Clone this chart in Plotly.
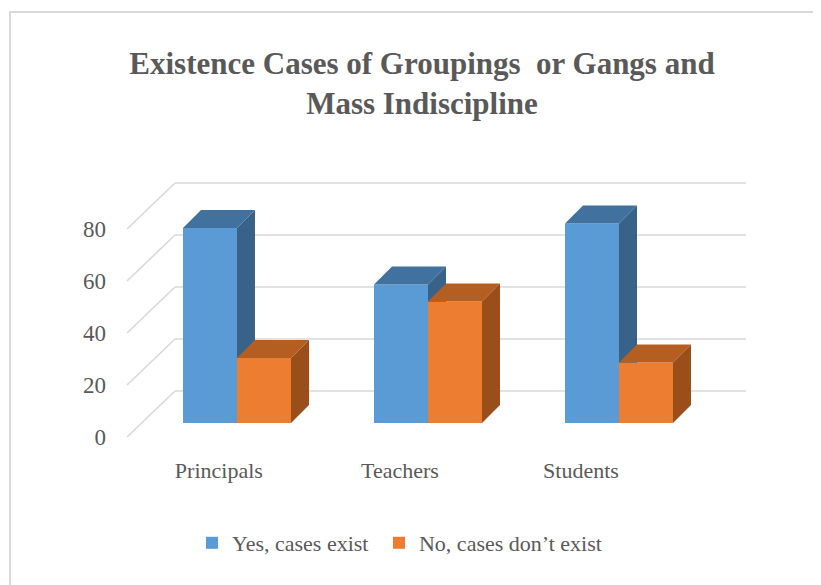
import plotly.graph_objects as go

# ---------------- data ----------------
categories = ["Principals", "Teachers", "Students"]
yes_values = [75, 53.3, 76.7]
no_values = [25, 46.7, 23.3]
series_names = ["Yes, cases exist", "No, cases don’t exist"]
y_ticks = [0, 20, 40, 60, 80]
title_text = "<b>Existence Cases of Groupings  or Gangs and<br>Mass Indiscipline</b>"

# ---------------- geometry (screen pixel layout helpers) ----------------
OFF = 8                      # page body margin
W, H = 821 - OFF, 585 - OFF  # figure size
# screen-pixel targets
PLOT_LEFT, PLOT_RIGHT, PLOT_TOP, PLOT_BOTTOM = 110, 761, 150, 455
L = PLOT_LEFT - OFF
T = PLOT_TOP - OFF
R = W - (PLOT_RIGHT - OFF)
B = H - (PLOT_BOTTOM - OFF)

PX_CAT = 191.0        # pixels per category unit
X0_PX = 237.0         # screen x of first group centre
PX_VAL = 2.6          # pixels per value unit
BASE_PX = 423.0       # screen y of bar baseline (front faces)

x_range = [(PLOT_LEFT - X0_PX) / PX_CAT, (PLOT_RIGHT - X0_PX) / PX_CAT]
y_range = [(BASE_PX - PLOT_BOTTOM) / PX_VAL, (BASE_PX - PLOT_TOP) / PX_VAL]

bar_w = 54 / PX_CAT
depth_dx = 18 / PX_CAT
depth_dy = 18 / PX_VAL
wall_dy = 32 / PX_VAL          # back wall offset (value units)
front_dy = -14 / PX_VAL        # front edge of side wall (value units)
wall_left = (175 - X0_PX) / PX_CAT
front_left = (127 - X0_PX) / PX_CAT
wall_right = (746 - X0_PX) / PX_CAT

FONT = "Liberation Serif"
TXT = "#595959"
GRID = "#D9D9D9"

colors = {
    "yes": ("#5B9BD5", "#41729F", "#386288"),
    "no": ("#ED7D31", "#B55E21", "#9A4F1B"),
}

fig = go.Figure()

def add_series(values, name, cols, xa, ya, offset_sign):
    front, top, side = cols
    xs = list(range(len(categories)))
    fig.add_trace(go.Bar(
        x=xs, y=values, name=name, width=bar_w,
        offset=-bar_w if offset_sign < 0 else 0,
        marker=dict(color=front, line=dict(width=0)),
        xaxis=xa, yaxis=ya, showlegend=True, hoverinfo="skip",
    ))
    for i, v in enumerate(values):
        x0 = i - bar_w if offset_sign < 0 else i
        x1 = x0 + bar_w
        # top face
        fig.add_trace(go.Scatter(
            x=[x0, x1, x1 + depth_dx, x0 + depth_dx, x0],
            y=[v, v, v + depth_dy, v + depth_dy, v],
            fill="toself", fillcolor=top, mode="lines",
            line=dict(width=0, color=top), showlegend=False,
            hoverinfo="skip", xaxis=xa, yaxis=ya,
        ))
        # side face
        fig.add_trace(go.Scatter(
            x=[x1, x1, x1 + depth_dx, x1 + depth_dx, x1],
            y=[0, v, v + depth_dy, depth_dy, 0],
            fill="toself", fillcolor=side, mode="lines",
            line=dict(width=0, color=side), showlegend=False,
            hoverinfo="skip", xaxis=xa, yaxis=ya,
        ))

# trailing no-break space widens the first legend entry slightly
add_series(yes_values, series_names[0] + "\u00a0", colors["yes"], "x", "y", -1)
add_series(no_values, series_names[1], colors["no"], "x2", "y2", 1)

# gridlines on back wall and side wall
shapes = []
for v in y_ticks:
    shapes.append(dict(type="line", xref="x", yref="y", layer="below",
                       x0=wall_left, x1=wall_right, y0=v + wall_dy, y1=v + wall_dy,
                       line=dict(color=GRID, width=1.6)))
    shapes.append(dict(type="line", xref="x", yref="y", layer="below",
                       x0=front_left, x1=wall_left, y0=v + front_dy, y1=v + wall_dy,
                       line=dict(color=GRID, width=1.6)))
# chart border (screen x=10, y=12, open to right/bottom)
plot_w = PLOT_RIGHT - PLOT_LEFT
plot_h = PLOT_BOTTOM - PLOT_TOP
shapes.append(dict(type="rect", xref="paper", yref="paper", layer="below",
                   x0=(10 - PLOT_LEFT) / plot_w, x1=(860 - PLOT_LEFT) / plot_w,
                   y0=(PLOT_BOTTOM - 620) / plot_h, y1=(PLOT_BOTTOM - 12) / plot_h,
                   line=dict(color=GRID, width=2), fillcolor="rgba(0,0,0,0)"))

# category label positions (perspective shift towards front)
cat_pos = [(i - 1) * 0.948 + 1 - 0.147 for i in range(len(categories))]

axis_common = dict(showgrid=False, zeroline=False, showline=False, ticks="")
fig.update_layout(
    width=W, height=H,
    margin=dict(l=L, r=R, t=T, b=B),
    paper_bgcolor="white", plot_bgcolor="white",
    font=dict(family=FONT, color=TXT, size=22),
    title=dict(text=title_text, x=(422 - OFF) / W, xanchor="center",
               y=1 - 66 / H, yanchor="middle", yref="container",
               font=dict(family=FONT, size=31, color=TXT)),
    xaxis=dict(range=x_range, tickvals=cat_pos, ticktext=categories,
               tickfont=dict(size=22, color=TXT), **axis_common),
    yaxis=dict(range=y_range, tickvals=[v + front_dy for v in y_ticks],
               ticktext=[str(v) for v in y_ticks], ticklabelstandoff=3,
               tickfont=dict(size=23, color=TXT), **axis_common),
    xaxis2=dict(range=x_range, overlaying="x", visible=False),
    yaxis2=dict(range=y_range, overlaying="y", visible=False),
    barmode="overlay",
    showlegend=True,
    legend=dict(orientation="h", x=(192 - PLOT_LEFT) / plot_w, xanchor="left",
                y=(PLOT_BOTTOM - 543) / plot_h, yanchor="middle",
                font=dict(size=22, color=TXT), bgcolor="rgba(0,0,0,0)",
                traceorder="normal"),
    shapes=shapes,
)

fig.write_html("out.html")
